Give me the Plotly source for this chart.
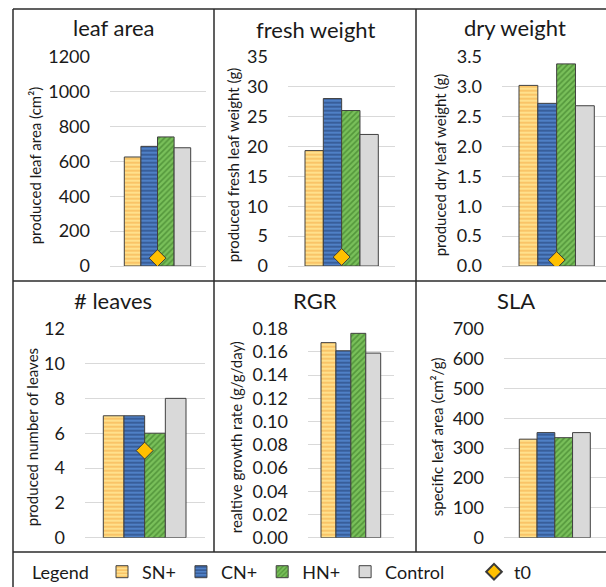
import plotly.graph_objects as go

W, H = 606, 587

# ---- data -------------------------------------------------------------
treatments = ["SN+", "CN+", "HN+", "Control"]

leaf_area = [625, 686, 740, 678]
fresh_weight = [19.3, 28.0, 26.0, 22.0]
dry_weight = [3.02, 2.72, 3.38, 2.68]
n_leaves = [7, 7, 6, 8]
rgr = [0.168, 0.161, 0.176, 0.159]
sla = [330, 352, 335, 352]

t0_leaf_area = 45
t0_fresh_weight = 1.5
t0_dry_weight = 0.1
t0_n_leaves = 5

panel_titles = ["leaf area", "fresh weight", "dry weight", "# leaves", "RGR", "SLA"]
axis_titles = [
    "produced leaf area (cm²)",
    "produced fresh leaf weight (g)",
    "produced dry leaf weight (g)",
    "produced number of leaves",
    "realtive growth rate (g/g/day)",
    "specific leaf area (cm²/g)",
]
y_ranges = [(0, 1200), (0, 35), (0, 3.5), (0, 12), (0, 0.18), (0, 700)]
y_dticks = [200, 5, 0.5, 2, 0.02, 100]
y_formats = ["", "", ".1f", "", ".2f", ""]

# ---- styling ----------------------------------------------------------
FONT = "Lato"
TXT = "#1a1a1a"
BARGAP = 0.3

bar_styles = {
    "SN+": dict(color="#FFE08C",
                pattern=dict(shape="-", fgcolor="#F29A2E", bgcolor="#FFE08C",
                             size=4, solidity=0.4, fillmode="overlay")),
    "CN+": dict(color="#4F80C6",
                pattern=dict(shape="-", fgcolor="#1B3563", bgcolor="#4F80C6",
                             size=4, solidity=0.45, fillmode="overlay")),
    "HN+": dict(color="#79C05A",
                pattern=dict(shape="/", fgcolor="#2F6E1E", bgcolor="#79C05A",
                             size=4, solidity=0.4, fillmode="overlay")),
    "Control": dict(color="#D9D9D9"),
}


def px_x(v):
    return v / W


def px_y(v):
    return 1 - v / H


# pixel geometry of each panel: grid extent (x), bar block extent (x), plot top/bottom (y)
panels = [
    dict(gx=(110, 206), bx=(124.3, 190.7), gy=(56.7, 266.0)),
    dict(gx=(288, 395), bx=(305.0, 378.3), gy=(56.7, 266.0)),
    dict(gx=(502, 606), bx=(519.0, 594.3), gy=(56.7, 266.0)),
    dict(gx=(85, 205), bx=(103.3, 186.0), gy=(328.7, 537.7)),
    dict(gx=(308, 394), bx=(321.0, 380.7), gy=(328.7, 537.7)),
    dict(gx=(504, 606), bx=(519.3, 590.3), gy=(328.7, 537.7)),
]
title_pos = [(113.5, 27), (315, 29), (515, 27), (113, 300), (315, 300), (516, 300)]
ytitle_x = [35, 233, 440, 32, 236, 437]

series = [leaf_area, fresh_weight, dry_weight, n_leaves, rgr, sla]
t0_values = [t0_leaf_area, t0_fresh_weight, t0_dry_weight, t0_n_leaves, None, None]

fig = go.Figure()
layout_axes = {}
annotations = []

for i, p in enumerate(panels):
    k = "" if i == 0 else str(i + 1)
    xa, ya = "x" + k, "y" + k
    vals = series[i]
    for j, name in enumerate(treatments):
        st = bar_styles[name]
        marker = dict(color=st["color"], line=dict(color="#404040", width=1))
        if "pattern" in st:
            marker["pattern"] = st["pattern"]
        fig.add_trace(go.Bar(
            x=[0], y=[vals[j]], name=name, marker=marker,
            xaxis=xa, yaxis=ya, legendgroup=name, showlegend=(i == 0),
            legend="legend", hoverinfo="y",
        ))
    if t0_values[i] is not None:
        fig.add_trace(go.Scatter(
            x=[0], y=[t0_values[i]], name="t0", mode="markers",
            marker=dict(symbol="diamond", size=13, color="#FFC000",
                        line=dict(color="#3a3a3a", width=1)),
            xaxis=xa, yaxis=ya, legendgroup="t0", showlegend=(i == 0),
            legend="legend2",
        ))

    gl, gr = p["gx"]
    bl, br = p["bx"]
    ppu = (br - bl) / (1 - BARGAP)
    c = (bl + br) / 2
    xr = [(gl - c) / ppu, (gr - c) / ppu]
    top, bot = p["gy"]

    layout_axes["xaxis" + k] = dict(
        domain=[px_x(gl), min(1.0, px_x(gr))], range=xr, anchor=ya,
        showgrid=False, zeroline=False, showticklabels=False, showline=False,
        fixedrange=True,
    )
    layout_axes["yaxis" + k] = dict(
        domain=[px_y(bot), px_y(top)], range=list(y_ranges[i]), anchor=xa,
        dtick=y_dticks[i], tick0=0, tickformat=y_formats[i],
        showgrid=True, gridcolor="#D9D9D9", gridwidth=1,
        zeroline=True, zerolinecolor="#D9D9D9", zerolinewidth=1,
        showline=False, ticks="", ticklabelstandoff=19,
        tickfont=dict(family=FONT, size=18, color=TXT), fixedrange=True,
    )

    tx, ty = title_pos[i]
    annotations.append(dict(
        text=panel_titles[i], x=px_x(tx), y=px_y(ty), xref="paper", yref="paper",
        xanchor="center", yanchor="middle", showarrow=False,
        font=dict(family=FONT, size=22, color=TXT),
    ))
    annotations.append(dict(
        text=axis_titles[i], x=px_x(ytitle_x[i]), y=px_y((top + bot) / 2 + 4),
        xref="paper", yref="paper", xanchor="center", yanchor="middle",
        textangle=-90, showarrow=False,
        font=dict(family=FONT, size=15, color=TXT),
    ))

annotations.append(dict(
    text="Legend", x=px_x(30), y=px_y(572), xref="paper", yref="paper",
    xanchor="left", yanchor="middle", showarrow=False,
    font=dict(family=FONT, size=18, color=TXT),
))

# table-like frame around the panels and the legend row
frame = dict(color="#2b2b2b", width=1.5)
lines = [
    (13, 9, W, 9),
    (13, 281, W, 281),
    (13, 552, W, 552),
    (13, 9, 13, H),
    (214, 9, 214, 552),
    (416, 9, 416, 552),
]
shapes = [
    dict(type="line", xref="paper", yref="paper",
         x0=px_x(a), y0=px_y(b), x1=px_x(cx), y1=px_y(d), line=frame)
    for a, b, cx, d in lines
]

fig.update_layout(
    width=W, height=H,
    margin=dict(l=0, r=0, t=0, b=0, pad=0, autoexpand=False),
    paper_bgcolor="white", plot_bgcolor="white",
    barmode="group", bargap=BARGAP, bargroupgap=0,
    annotations=annotations, shapes=shapes,
    legend=dict(orientation="h", x=px_x(102), y=px_y(572), xanchor="left",
                yanchor="middle", bgcolor="rgba(0,0,0,0)", borderwidth=0,
                traceorder="normal",
                font=dict(family=FONT, size=18, color=TXT)),
    legend2=dict(orientation="h", x=px_x(474), y=px_y(572), xanchor="left",
                 yanchor="middle", bgcolor="rgba(0,0,0,0)", borderwidth=0,
                 itemsizing="constant",
                 font=dict(family=FONT, size=18, color=TXT)),
    **layout_axes,
)

fig.write_html("out.html")
